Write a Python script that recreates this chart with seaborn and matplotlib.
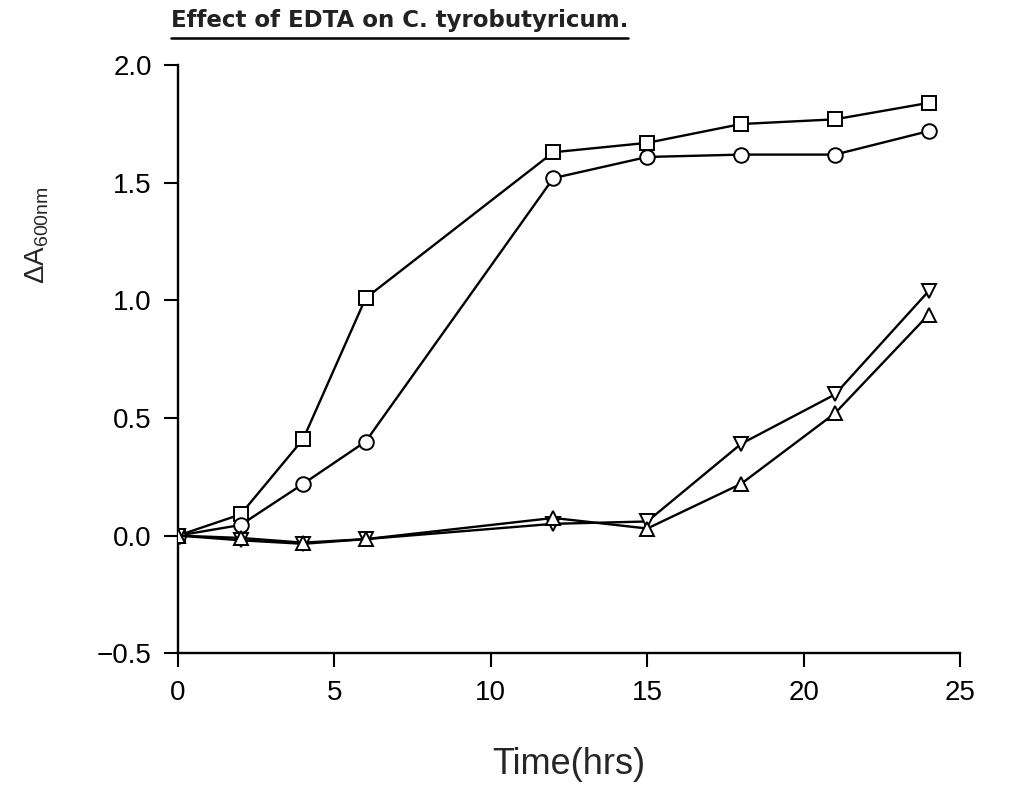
import matplotlib
matplotlib.use("Agg")
import matplotlib.pyplot as plt
import seaborn as sns
import pandas as pd

# Growth (change in absorbance at 600 nm) over time, four cultures
time_hrs = [0, 2, 4, 6, 12, 15, 18, 21, 24]
series_square = [0.0, 0.09, 0.41, 1.01, 1.63, 1.67, 1.75, 1.77, 1.84]
series_circle = [0.0, 0.045, 0.22, 0.40, 1.52, 1.61, 1.62, 1.62, 1.72]
series_tri_down = [0.0, -0.02, -0.035, -0.015, 0.05, 0.06, 0.39, 0.60, 1.04]
series_tri_up = [0.0, -0.01, -0.03, -0.015, 0.075, 0.03, 0.22, 0.52, 0.94]

x_ticks = [0, 5, 10, 15, 20, 25]
y_ticks = [-0.5, 0.0, 0.5, 1.0, 1.5, 2.0]

sns.set_style("ticks")
plt.rcParams["font.family"] = ["Liberation Sans", "DejaVu Sans"]

fig = plt.figure(figsize=(10.29, 7.86), dpi=100)
ax = fig.add_axes([0.173, 0.169, 0.760, 0.748])

series = [
    (series_square, "s"),
    (series_circle, "o"),
    (series_tri_down, "v"),
    (series_tri_up, "^"),
]
for values, marker in series:
    df = pd.DataFrame({"Time": time_hrs, "dA": values})
    sns.lineplot(
        data=df, x="Time", y="dA", ax=ax, color="black", linewidth=1.7,
        marker=marker, markersize=10.5, markerfacecolor="white",
        markeredgecolor="black", markeredgewidth=1.4, zorder=3,
    )

ax.set_xlim(0, 25)
ax.set_ylim(-0.5, 2.0)
ax.set_xticks(x_ticks)
ax.set_yticks(y_ticks)
ax.set_xticklabels([str(t) for t in x_ticks])
ax.set_yticklabels([f"{v:.1f}".replace("-", "\u2212") for v in y_ticks])
ax.spines["top"].set_visible(False)
ax.spines["right"].set_visible(False)
for side in ("left", "bottom"):
    ax.spines[side].set_linewidth(1.7)
    ax.spines[side].set_color("black")
ax.tick_params(axis="both", direction="out", width=1.5,
               labelsize=20, colors="black")
ax.tick_params(axis="y", length=10, pad=9)
ax.tick_params(axis="x", length=10, pad=9)
ax.margins(0)

ax.set_xlabel("Time(hrs)", fontsize=26, labelpad=30)
ax.set_ylabel("")

# y-axis label with subscript, set in the upper part of the axis
fig.text(0.036, 1 - 235 / 786, r"$\mathregular{\Delta A_{600nm}}$",
         fontsize=20, rotation=90, ha="center", va="center")

title = fig.text(0.166, 0.974, "Effect of EDTA on C. tyrobutyricum.",
                 fontsize=16.5, fontweight="bold", family="DejaVu Sans",
                 ha="left", va="center", color="#222222")
fig.canvas.draw()
bb = title.get_window_extent()
inv = fig.transFigure.inverted()
(x0, y0), (x1, y1) = inv.transform([(bb.x0, bb.y0), (bb.x1, bb.y1)])
fig.add_artist(plt.Line2D([x0, x1], [y0 - 0.008, y0 - 0.008],
                          transform=fig.transFigure, color="black", lw=1.8))

fig.savefig("out.png", dpi=100, facecolor="white")
